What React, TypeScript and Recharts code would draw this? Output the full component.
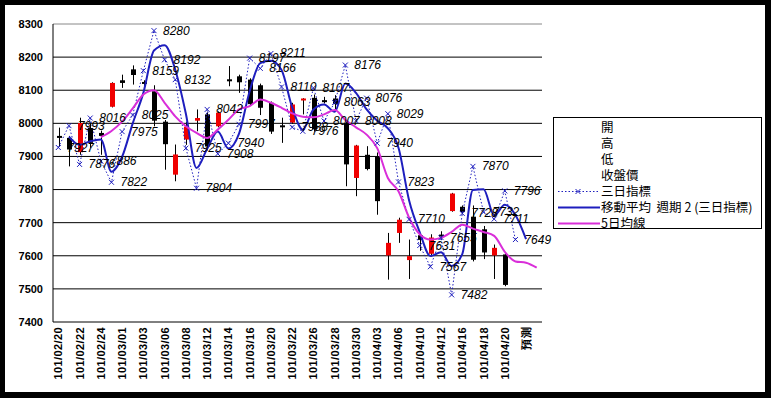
import React from "react";
import { ComposedChart, Bar, Line, XAxis, YAxis, CartesianGrid, ReferenceLine, LabelList } from "recharts";

const dates = [
  "101/02/20", "101/02/21", "101/02/22", "101/02/23", "101/02/24", "101/02/29", "101/03/01", "101/03/02",
  "101/03/03", "101/03/05", "101/03/06", "101/03/07", "101/03/08", "101/03/09", "101/03/12", "101/03/13",
  "101/03/14", "101/03/15", "101/03/16", "101/03/19", "101/03/20", "101/03/21", "101/03/22", "101/03/23",
  "101/03/26", "101/03/27", "101/03/28", "101/03/29", "101/03/30", "101/04/02", "101/04/03", "101/04/05",
  "101/04/06", "101/04/09", "101/04/10", "101/04/11", "101/04/12", "101/04/13", "101/04/16", "101/04/17",
  "101/04/18", "101/04/19", "101/04/20", "101/04/23", "預測", " ",
];

// 開 高 低 收盤價
const openPx = [
  7962, 7956, 7913, 7986, 7971, 8050, 8130, 8163, 8125, 8097, 8005, 7845, 7951, 8008, 8027, 7991,
  8133, 8142, 8132, 8115, 8062, 7994, 8002, 8070, 8077, 8070, 8075, 8000, 7835, 7905, 7901, 7601,
  7669, 7587, 7662, 7606, 7664, 7735, 7748, 7718, 7680, 7601, 7604,
];
const highPx = [
  7987, 7962, 8017, 7998, 7978, 8124, 8147, 8175, 8130, 8115, 8010, 7936, 8005, 8042, 8033, 8036,
  8173, 8147, 8136, 8120, 8066, 8017, 8062, 8076, 8087, 8080, 8085, 8010, 7935, 7931, 7912, 7669,
  7715, 7649, 7668, 7665, 7674, 7790, 7752, 7752, 7690, 7634, 7610,
];
const lowPx = [
  7930, 7870, 7905, 7926, 7905, 8048, 8107, 8117, 8110, 7991, 7860, 7825, 7935, 7976, 7918, 7988,
  8112, 8092, 8052, 8025, 7968, 7941, 7998, 8027, 7975, 8060, 8042, 7810, 7780, 7858, 7724, 7528,
  7639, 7530, 7615, 7598, 7648, 7733, 7725, 7583, 7590, 7530, 7508,
];
const closePx = [
  7958, 7921, 8001, 7941, 7962, 8122, 8122, 8146, 8120, 8008, 7937, 7906, 7990, 8016, 7930, 8032,
  8128, 8124, 8058, 8047, 7975, 7990, 8057, 8075, 7982, 8066, 8058, 7876, 7933, 7862, 7765, 7639,
  7709, 7599, 7648, 7655, 7658, 7788, 7732, 7588, 7610, 7624, 7512,
];

// 三日指標
const threeDay = [
  7927, 7993, 7876, 8016, 7886, 7822, 7975, 8025, 8159, 8280, 8192, 8132, 7925, 7804, 8042, 7908,
  7940, 7997, 8197, 8166, 8211, 8110, 7988, 7976, 8107, 8007, 8063, 8176, 8008, 8076, 7940, 8029,
  7823, 7710, 7631, 7567, 7655, 7482, 7728, 7870, 7732, 7711, 7796, 7649, null, null,
];

// 移動平均 週期 2 (三日指標)
const ma2 = [
  null, 7960, 7935, 7946, 7951, 7854, 7899, 8000, 8092, 8220, 8236, 8162, 8029, 7865, 7923, 7975,
  7924, 7969, 8097, 8182, 8189, 8161, 8048, 7981, 8042, 8057, 8035, 8120, 8092, 8042, 8008, 7985,
  7926, 7767, 7671, 7599, 7611, 7569, 7605, 7799, 7801, 7722, 7754, 7723, 7650, null,
];

// 5日均線
const ma5 = [
  null, null, null, null, 7958, 7977, 8005, 8045, 8087, 8100, 8062, 8021, 7991, 7971, 7956, 7981,
  8011, 8042, 8052, 8072, 8062, 8047, 8030, 8020, 8018, 8027, 8040, 8010, 7988, 7966, 7925, 7835,
  7795, 7715, 7665, 7649, 7654, 7672, 7694, 7682, 7672, 7660, 7612, 7583, 7579, 7564,
];

const yTicks = [7400, 7500, 7600, 7700, 7800, 7900, 8000, 8100, 8200, 8300];
const gridValues = [7500, 7600, 7700, 7800, 7900, 8000, 8100, 8200];
const boundaryTicks = dates.map((_, i) => i).concat([dates.length]);

const data = dates.map((date, i) => ({
  date,
  open: openPx[i] ?? null,
  high: highPx[i] ?? null,
  low: lowPx[i] ?? null,
  close: closePx[i] ?? null,
  range: highPx[i] != null ? [lowPx[i], highPx[i]] : null,
  three: threeDay[i] ?? null,
  ma2: ma2[i] ?? null,
  ma5: ma5[i] ?? null,
}));

const BLUE = "#1E1EBE";
const MAGENTA = "#D92ED9";
const FONT = "'Liberation Sans', Arial, sans-serif";

const Candle = (props: any) => {
  const { x, y, width, height, payload } = props;
  if (!payload || payload.open == null || !isFinite(y) || !isFinite(height)) return null;
  const top = Math.min(y, y + height);
  const bot = Math.max(y, y + height);
  const span = payload.high - payload.low;
  const py = (v: number) => (span === 0 ? top : top + ((payload.high - v) / span) * (bot - top));
  const cx = Math.round(x + width / 2) + 0.5;
  const up = payload.close > payload.open;
  const yo = py(payload.open);
  const yc = py(payload.close);
  const bt = Math.min(yo, yc);
  const bh = Math.max(Math.abs(yc - yo), 2);
  return (
    <g>
      <line x1={cx} x2={cx} y1={top} y2={bot} stroke="#000" strokeWidth={1} />
      <rect x={cx - 2.5} y={bt} width={5} height={bh} fill={up ? "#F00000" : "#000"} />
    </g>
  );
};

const XDot = (p: any) => {
  const { cx, cy, value, index } = p;
  if (value == null || cy == null || !isFinite(cy)) return <g key={`xd${index}`} />;
  const s = 2.5;
  return (
    <path
      key={`xd${index}`}
      d={`M${cx - s},${cy - s}L${cx + s},${cy + s}M${cx - s},${cy + s}L${cx + s},${cy - s}`}
      stroke={BLUE}
      strokeWidth={1}
      fill="none"
    />
  );
};

const ThreeLabel = (p: any) => {
  const { x, y, value } = p;
  if (value == null || !isFinite(y)) return null;
  return (
    <text x={x + 9} y={y} dominantBaseline="central" fontSize={12} fontStyle="italic" fontFamily={FONT} fill="#000">
      {value}
    </text>
  );
};

const DateTick = (p: any) => {
  const { x, y, payload } = p;
  return (
    <text
      x={x}
      y={y}
      transform={`rotate(-90 ${x} ${y})`}
      textAnchor="end"
      dominantBaseline="central"
      fontSize={11}
      fontWeight="bold"
      letterSpacing={0.4}
      fontFamily={FONT}
      fill="#000"
    >
      {payload.value}
    </text>
  );
};

const legendRows = ["開", "高", "低", "收盤價", "三日指標", "移動平均  週期 2 (三日指標)", "5日均線"];

function ChartLegend() {
  return (
    <div
      style={{
        position: "absolute",
        left: 553,
        top: 117,
        width: 207,
        height: 110,
        border: "1px solid #000",
        background: "#fff",
      }}
    >
      {legendRows.map((name, i) => (
        <div
          key={name}
          style={{ position: "absolute", left: 0, top: 1 + i * 15.95, height: 16, width: 207 }}
        >
          <svg width={46} height={16} style={{ position: "absolute", left: 0, top: 0 }}>
            {i === 4 && (
              <g>
                <line x1={4} x2={44} y1={8.5} y2={8.5} stroke={BLUE} strokeDasharray="1.5 2" />
                <path d="M21.5,6L26.5,11M21.5,11L26.5,6" stroke={BLUE} />
              </g>
            )}
            {i === 5 && <line x1={4} x2={46} y1={8.5} y2={8.5} stroke={BLUE} strokeWidth={2} />}
            {i === 6 && <line x1={4} x2={46} y1={8.5} y2={8.5} stroke={MAGENTA} strokeWidth={2} />}
          </svg>
          <span
            style={{
              position: "absolute",
              left: 47,
              top: 0,
              lineHeight: "16px",
              fontSize: 12.5,
              fontFamily: "'Noto Sans CJK TC', sans-serif",
              whiteSpace: "pre",
              color: "#000",
            }}
          >
            {name}
          </span>
        </div>
      ))}
    </div>
  );
}

export default function App() {
  return (
    <div style={{ position: "absolute", left: 0, top: 0, width: 771, height: 398, background: "#000" }}>
      <div style={{ position: "absolute", left: 5, top: 5, width: 760, height: 387, background: "#fff" }} />
      <div style={{ position: "absolute", left: 0, top: 0 }}>
        <ComposedChart width={771} height={398} data={data} margin={{ top: 24, right: 229, bottom: 6, left: 0 }}>
          <CartesianGrid vertical={false} horizontalValues={gridValues} stroke="#000" strokeWidth={1} />
          <XAxis
            xAxisId="t"
            type="number"
            domain={[0, dates.length]}
            ticks={boundaryTicks}
            allowDataOverflow
            height={0}
            tick={false}
            tickSize={4}
            stroke="#000"
            axisLine={false}
          />
          <XAxis
            dataKey="date"
            height={70}
            interval={1}
            tickLine={false}
            tickSize={0}
            tickMargin={5}
            tick={<DateTick />}
            axisLine={{ stroke: "#000" }}
          />
          <YAxis
            domain={[7400, 8300]}
            ticks={yTicks}
            width={53}
            tickLine={false}
            tickSize={0}
            tickMargin={10}
            axisLine={{ stroke: "#000" }}
            tick={{ fontSize: 11, fontWeight: "bold", fontFamily: FONT, fill: "#000" }}
          />
          <ReferenceLine y={8300} stroke="#888" />
          <ReferenceLine xAxisId="t" x={dates.length} stroke="#888" />
          <Bar dataKey="range" barSize={5} shape={<Candle />} isAnimationActive={false} />
          <Line
            dataKey="three"
            stroke={BLUE}
            strokeWidth={1}
            strokeDasharray="1.5 2"
            dot={XDot}
            activeDot={false}
            isAnimationActive={false}
          >
            <LabelList dataKey="three" content={<ThreeLabel />} />
          </Line>
          <Line type="monotone" dataKey="ma2" stroke={BLUE} strokeWidth={2} dot={false} activeDot={false} isAnimationActive={false} />
          <Line type="monotone" dataKey="ma5" stroke={MAGENTA} strokeWidth={2} dot={false} activeDot={false} isAnimationActive={false} />
        </ComposedChart>
      </div>
      <ChartLegend />
    </div>
  );
}
